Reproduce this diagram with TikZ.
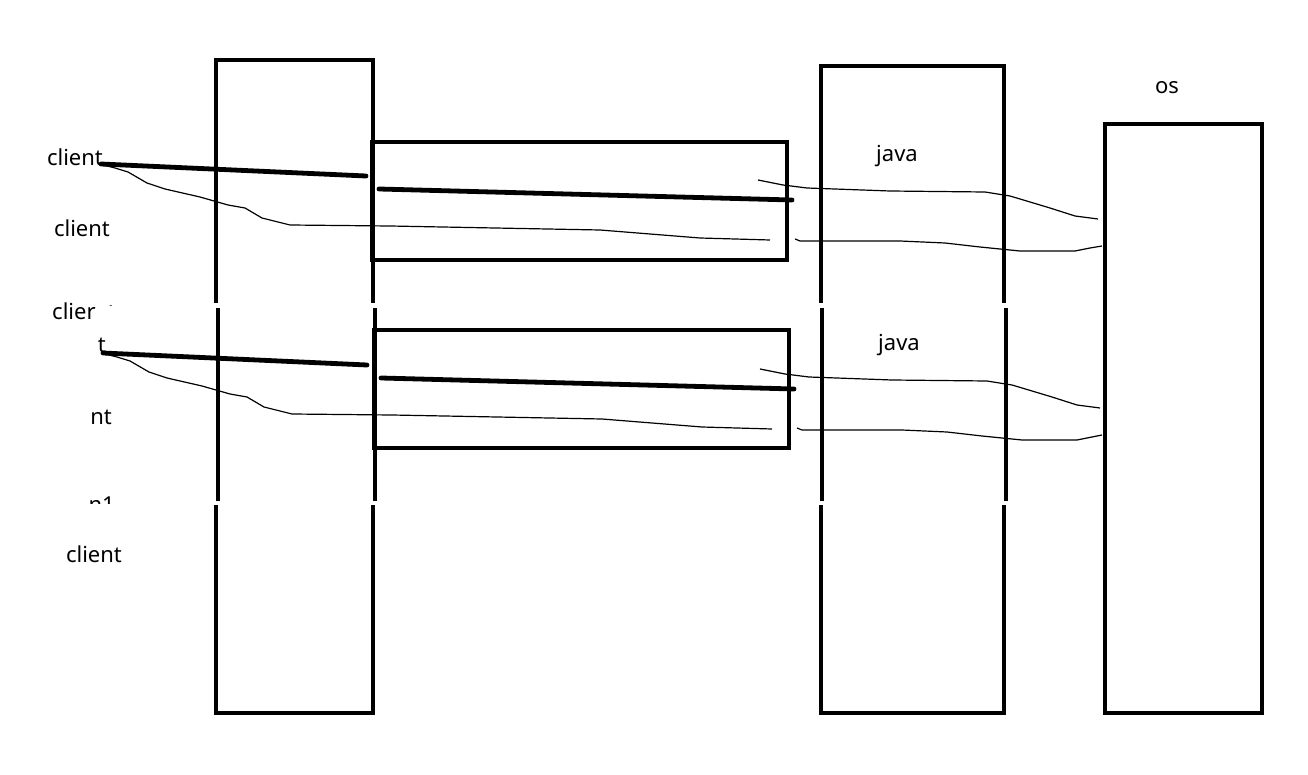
\documentclass[tikz,border=0pt]{standalone}
\usepackage{fontspec}
\setmainfont{Noto Sans}
\begin{document}
\begin{tikzpicture}[x=1pt,y=-1pt,
  thick box/.style={line width=4.6pt},
  hbox/.style={draw,line width=4.6pt,outer sep=0pt,inner sep=0pt,anchor=north west,minimum width=415pt,minimum height=118pt},
  heavy/.style={line width=4.8pt,line cap=round},
  thin wire/.style={line width=1.2pt,line join=round},
  lbl/.style={inner sep=0pt,font=\fontsize{22}{22}\selectfont}]
\useasboundingbox[fill=white] (0,0) rectangle (1308,775);
% left tall box (with paste seams)
\draw[thick box] (216,303) -- (216,60) -- (373,60) -- (373,303);
\draw[thick box] (218,308) -- (218,501);
\draw[thick box] (375,308) -- (375,501);
\draw[thick box] (216,505) -- (216,713) -- (373,713) -- (373,505);
% java box
\draw[thick box] (821,303) -- (821,66) -- (1004,66) -- (1004,303);
\draw[thick box] (822,308) -- (822,501);
\draw[thick box] (1006,308) -- (1006,501);
\draw[thick box] (821,505) -- (821,713) -- (1004,713) -- (1004,505);
% os box
\draw[thick box] (1105,124) rectangle (1262,713);
% horizontal boxes
\node[hbox] (b1) at (372,142) {};
\node[hbox] (b2) at (374,330) {};
% labels
\node[lbl] (c1) at (75,157) {client};
\node[lbl] (c2) at (82,228) {client};
\node[lbl,anchor=west] (c3) at (52,311) {clier};
\begin{scope}
\clip (102,290) rectangle (120,306);
\node[lbl,anchor=west] at (104,314) {1};
\end{scope}
\node[lbl,anchor=east] (c4) at (106,345) {t};
\node[lbl,anchor=east] (c5) at (112,417) {nt};
\begin{scope}
\clip (85,480) rectangle (120,503);
\node[lbl,anchor=east] (c6) at (115,505) {n1};
\end{scope}
\node[lbl] (c7) at (94,554) {client};
\node[lbl] (j1) at (897,156) {java};
\node[lbl] (j2) at (899,345) {java};
\node[lbl] (os) at (1167,88) {os};
% heavy lines
\coordinate (h1a) at (101,164); \coordinate (h1b) at (366,176);
\coordinate (h2a) at (379,189); \coordinate (h2b) at (792,200);
\coordinate (h3a) at (103,353); \coordinate (h3b) at (367,365);
\coordinate (h4a) at (381,378); \coordinate (h4b) at (794,389);
\draw[heavy] (h1a) -- (h1b);
\draw[heavy] (h2a) -- (h2b);
\draw[heavy] (h3a) -- (h3b);
\draw[heavy] (h4a) -- (h4b);
% thin wavy wires
\draw[thin wire] (103,165) -- (115,168) -- (128,172) -- (147,183) -- (165,189) -- (200,197) -- (228,205) -- (245,208) -- (262,218) -- (290,225) -- (390,226) -- (600,230) -- (700,238) -- (770,240);
\draw[thin wire] (758,180) -- (783,185) -- (807,188) -- (890,191) -- (985,192) -- (1010,196) -- (1050,208) -- (1075,216) -- (1098,219);
\draw[thin wire] (795,239) -- (800,241) -- (900,241) -- (945,243) -- (980,247) -- (1020,251) -- (1075,251) -- (1090,248) -- (1102,246);
\begin{scope}[yshift=-189pt,xshift=2pt]
\draw[thin wire] (103,165) -- (115,168) -- (128,172) -- (147,183) -- (165,189) -- (200,197) -- (228,205) -- (245,208) -- (262,218) -- (290,225) -- (390,226) -- (600,230) -- (700,238) -- (770,240);
\draw[thin wire] (758,180) -- (783,185) -- (807,188) -- (890,191) -- (985,192) -- (1010,196) -- (1050,208) -- (1075,216) -- (1098,219);
\draw[thin wire] (795,239) -- (800,241) -- (900,241) -- (945,243) -- (980,247) -- (1020,251) -- (1075,251) -- (1090,248) -- (1100,246);
\end{scope}
\end{tikzpicture}
\end{document}
